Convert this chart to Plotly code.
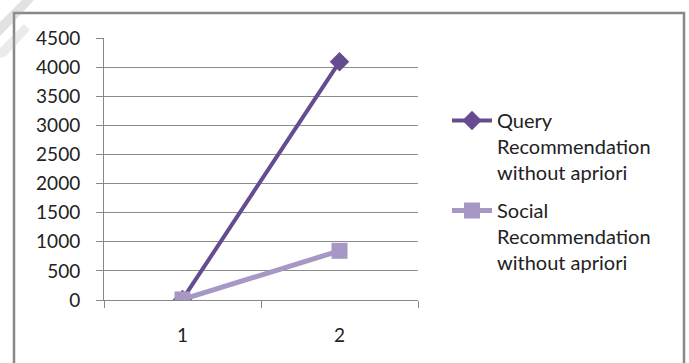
import plotly.graph_objects as go

# Data
categories = ["1", "2"]
query_values = [10, 4090]
social_values = [10, 845]
series_names = [
    "Query<br>Recommendation<br>without apriori",
    "Social<br>Recommendation<br>without apriori",
]
y_ticks = [0, 500, 1000, 1500, 2000, 2500, 3000, 3500, 4000, 4500]

W, H = 689, 363
L, R, T, B = 104, 418, 38, 300  # plot area in pixels


def px_x(p):
    return (p - L) / (R - L)


def px_y(p):
    return (B - p) / (B - T)


fig = go.Figure()
fig.add_trace(go.Scatter(
    x=categories, y=query_values, name=series_names[0],
    legendgroup="query",
    mode="lines+markers",
    line=dict(color="#654C8E", width=4),
    marker=dict(symbol="diamond", size=15, color="#654C8E"),
))
fig.add_trace(go.Scatter(
    x=categories, y=social_values, name=series_names[1],
    legendgroup="social",
    mode="lines+markers",
    line=dict(color="#A697C4", width=5),
    marker=dict(symbol="square", size=16, color="#A697C4"),
))

shapes = [
    # chart frame
    dict(type="path", xref="paper", yref="paper",
         path=f"M {px_x(14)} {px_y(380)} L {px_x(14)} {px_y(13)} L {px_x(684)} {px_y(13)} L {px_x(684)} {px_y(380)}",
         line=dict(color="#888888", width=2.5), layer="below"),
    # faint page decoration in the corner
    dict(type="path", xref="paper", yref="paper",
         path=f"M {px_x(0)} {px_y(22)} L {px_x(22)} {px_y(0)} L {px_x(34)} {px_y(0)} L {px_x(8)} {px_y(28)} L {px_x(0)} {px_y(36)} Z",
         fillcolor="rgba(160,160,160,0.3)", line=dict(width=0), layer="below"),
    dict(type="path", xref="paper", yref="paper",
         path=f"M {px_x(0)} {px_y(48)} L {px_x(24)} {px_y(24)} L {px_x(30)} {px_y(30)} L {px_x(6)} {px_y(56)} L {px_x(0)} {px_y(58)} Z",
         fillcolor="rgba(175,175,175,0.25)", line=dict(width=0), layer="below"),
]

fig.update_layout(
    width=W, height=H,
    margin=dict(l=L, r=W - R, t=T, b=H - B),
    paper_bgcolor="white", plot_bgcolor="white",
    font=dict(family="Lato", size=19, color="#222222"),
    showlegend=True,
    legend=dict(
        x=px_x(447), y=px_y(101), xanchor="left", yanchor="top",
        font=dict(family="Lato", size=20, color="#222222"),
        valign="top",
        tracegroupgap=9, itemwidth=40,
        bgcolor="rgba(0,0,0,0)",
    ),
    shapes=shapes,
)
fig.update_xaxes(
    type="category", range=[-0.5, 1.5],
    showgrid=False, zeroline=False,
    showline=True, linecolor="#888888", linewidth=1,
    ticks="outside", tickson="boundaries", ticklen=7, tickcolor="#888888",
    ticklabelstandoff=18,
)
fig.update_yaxes(
    range=[0, 4500], tickvals=y_ticks,
    showgrid=True, gridcolor="#8C8C8C", gridwidth=1,
    zeroline=False,
    showline=True, linecolor="#888888", linewidth=1,
    ticks="outside", ticklen=7, tickcolor="#888888",
    ticklabelstandoff=12,
)

fig.write_html("out.html")
